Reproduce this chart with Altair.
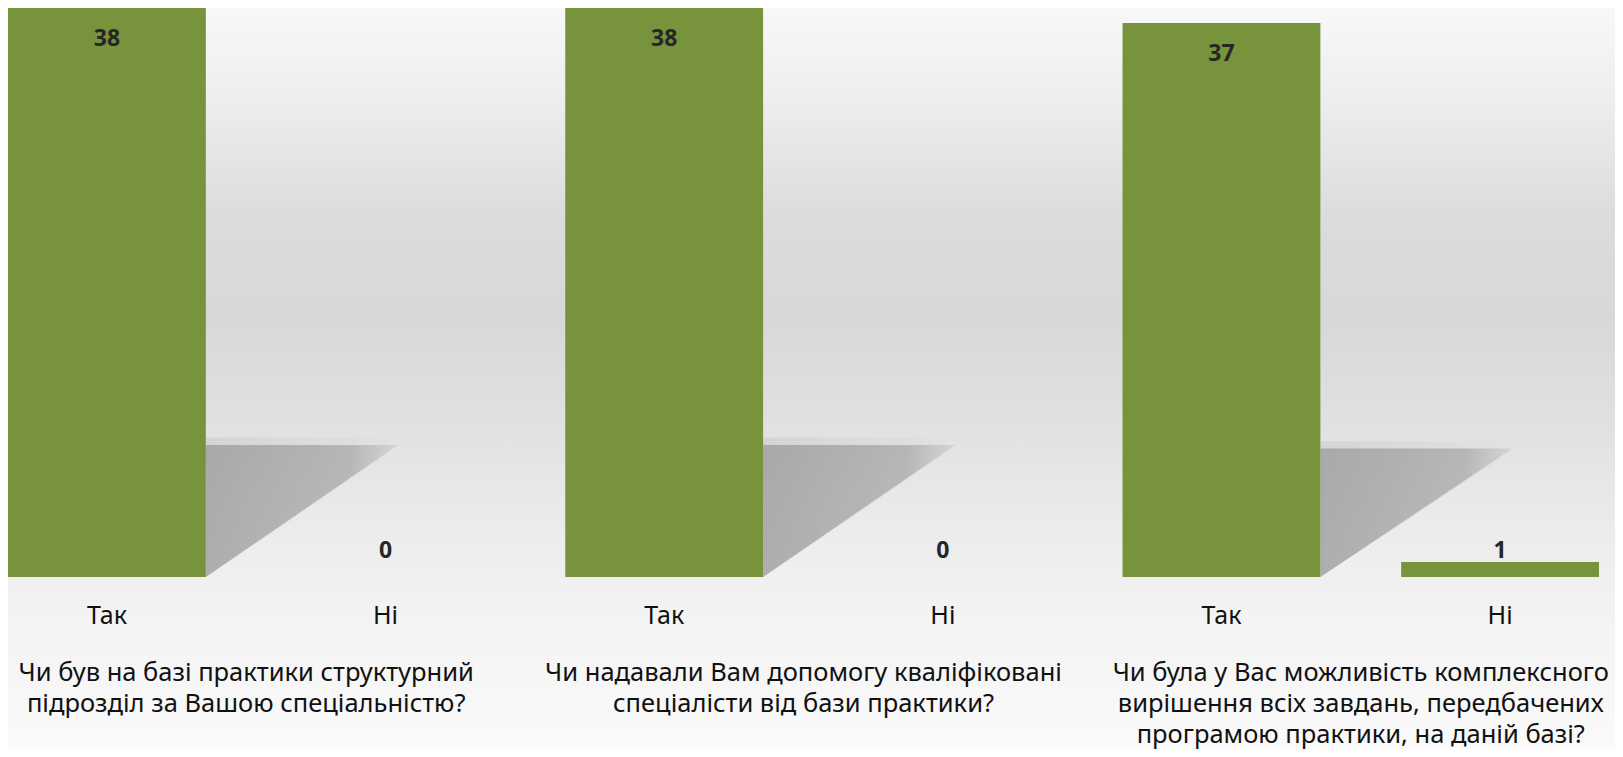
import altair as alt
import pandas as pd

# ---- data ----
questions = [
    "Чи був на базі практики структурний\nпідрозділ за Вашою спеціальністю?",
    "Чи надавали Вам допомогу кваліфіковані\nспеціалісти від бази практики?",
    "Чи була у Вас можливість комплексного\nвирішення всіх завдань, передбачених\nпрограмою практики, на даній базі?",
]
answers = ["Так", "Ні"]
yes_counts = [38, 38, 37]
no_counts = [0, 0, 1]

rows = []
for qi in range(len(questions)):
    for ai, (ans, vals) in enumerate(zip(answers, [yes_counts, no_counts])):
        rows.append({"q": qi, "answer": ans, "value": vals[qi], "pos": qi * 2 + ai})
bars_df = pd.DataFrame(rows)
titles_df = pd.DataFrame({"q": list(range(len(questions))), "title": questions})
titles_df["center"] = titles_df["q"] * 2 + 0.5

W, H = 1591, 569
HALF = 0.355
FONT = "Noto Sans"
GREEN = "#77933C"

# shadow table built from the bar values (two vertices per tall bar)
shadow_rows = []
for r in rows:
    if r["value"] >= 5:
        for t in (0, 1):
            shadow_rows.append({"q": r["q"], "pos": r["pos"], "value": r["value"], "t": t})
shadow_df = pd.DataFrame(shadow_rows)

xscale = alt.Scale(domain=[-HALF, 5 + HALF], nice=False, zero=False)
yscale = alt.Scale(domain=[0, 38], nice=False)

gradient = {
    "gradient": "linear",
    "x1": 0, "y1": 0, "x2": 0, "y2": 1,
    "stops": [
        {"offset": 0.0, "color": "#f8f8f8"},
        {"offset": 0.12, "color": "#eeeeee"},
        {"offset": 0.28, "color": "#dcdcdc"},
        {"offset": 0.42, "color": "#d8d8d8"},
        {"offset": 0.55, "color": "#e0e0e0"},
        {"offset": 0.68, "color": "#eaeaea"},
        {"offset": 0.82, "color": "#f3f3f3"},
        {"offset": 1.0, "color": "#fafafa"},
    ],
}

background = alt.Chart(alt.Data(values=[{}])).mark_rect(color=gradient).encode(
    x=alt.value(0), x2=alt.value(W + 16), y=alt.value(0), y2=alt.value(H + 172)
)


def shadow_layer(reach, rise, color):
    return alt.Chart(shadow_df).transform_calculate(
        xs=f"datum.pos + {HALF} + datum.t * {reach}",
        ys=f"datum.value * {rise}",
        ys2=f"datum.t * datum.value * {rise}",
    ).mark_area(color=color).encode(
        x=alt.X("xs:Q", scale=xscale, axis=None),
        y=alt.Y("ys:Q", scale=yscale, axis=None),
        y2="ys2:Q",
        detail="q:N",
    )


shadow_core = {
    "gradient": "linear", "x1": 0, "y1": 0, "x2": 1, "y2": 0,
    "stops": [
        {"offset": 0.0, "color": "rgba(125,125,125,0.50)"},
        {"offset": 0.75, "color": "rgba(125,125,125,0.42)"},
        {"offset": 1.0, "color": "rgba(125,125,125,0.12)"},
    ],
}
shadow_halo = {
    "gradient": "linear", "x1": 0, "y1": 0, "x2": 1, "y2": 0,
    "stops": [
        {"offset": 0.0, "color": "rgba(125,125,125,0.14)"},
        {"offset": 1.0, "color": "rgba(125,125,125,0.0)"},
    ],
}

shadow = alt.layer(
    shadow_layer(0.74, 0.245, shadow_halo),
    shadow_layer(0.69, 0.232, shadow_core),
)

base = alt.Chart(bars_df)

bars = base.transform_calculate(
    lo=f"datum.pos - {HALF}", hi=f"datum.pos + {HALF}"
).mark_rect(color=GREEN).encode(
    x=alt.X("lo:Q", scale=xscale, axis=None),
    x2="hi:Q",
    y=alt.Y("value:Q", scale=yscale, axis=None),
    y2=alt.datum(0),
)

inside_labels = base.transform_filter("datum.value >= 5").mark_text(
    font=FONT, fontSize=23, fontWeight="bold", color="#262626",
    baseline="alphabetic", dy=38
).encode(x=alt.X("pos:Q", scale=xscale), y=alt.Y("value:Q", scale=yscale), text="value:Q")

outside_labels = base.transform_filter("datum.value < 5").transform_calculate(
    ly="max(datum.value, 1)"
).mark_text(
    font=FONT, fontSize=23, fontWeight="bold", color="#262626",
    baseline="alphabetic", dy=-4
).encode(x=alt.X("pos:Q", scale=xscale), y=alt.Y("ly:Q", scale=yscale), text="value:Q")

answer_labels = base.mark_text(
    font=FONT, fontSize=25, color="#111111", baseline="alphabetic", dy=47
).encode(x=alt.X("pos:Q", scale=xscale), y=alt.datum(0), text="answer:N")

title_labels = alt.Chart(titles_df).mark_text(
    font=FONT, fontSize=25.5, color="#111111", baseline="alphabetic",
    dy=104, lineBreak="\n", lineHeight=31, align="center"
).encode(x=alt.X("center:Q", scale=xscale), y=alt.datum(0), text="title:N")

chart = alt.layer(
    background, shadow, bars, inside_labels, outside_labels, answer_labels, title_labels
).properties(
    width=W, height=H,
    autosize=alt.AutoSizeParams(type="none"),
    padding={"left": 0, "top": 0, "right": 16, "bottom": 172},
).configure_view(stroke=None)

chart.save("out.html", embed_options={"renderer": "svg", "actions": False})
